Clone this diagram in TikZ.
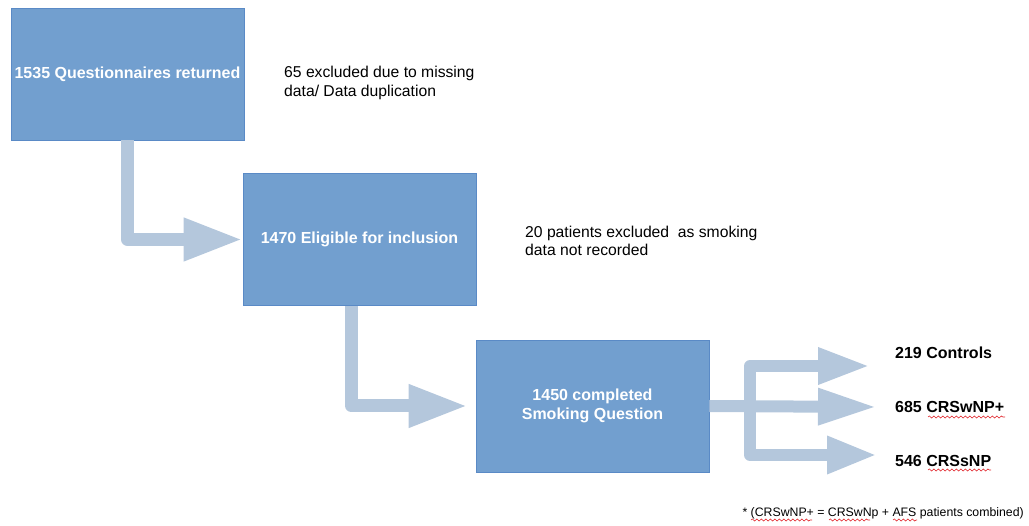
\documentclass[tikz,border=0pt]{standalone}
\usepackage{fontspec}
\setmainfont{Liberation Sans}
\usetikzlibrary{arrows.meta,decorations.pathmorphing}
\definecolor{boxfill}{HTML}{729FCF}
\definecolor{boxline}{HTML}{5A8AC6}
\definecolor{flow}{HTML}{B4C7DC}
\definecolor{spell}{HTML}{E0282E}
\begin{document}
\begin{tikzpicture}[x=1pt,y=-1pt,
  stage/.style={draw=boxline, line width=0.8pt, fill=boxfill,
    minimum width=233pt, minimum height=132pt, inner sep=0pt,
    text=white, align=center,
    font=\bfseries\fontsize{16}{19.5}\selectfont},
  note/.style={anchor=west, align=left, inner sep=0pt,
    font=\fontsize{15.7}{18.5}\selectfont},
  outcome/.style={anchor=west, inner sep=0pt,
    font=\bfseries\fontsize{16}{18.5}\selectfont},
  flowarrow/.style={draw=flow, line width=13pt, line join=round,
    -{Triangle[length=59pt,width=40pt]}},
  branch/.style={draw=flow, line width=12pt, line join=round},
  squiggle/.style={draw=spell, line width=0.6pt,
    decorate, decoration={snake, amplitude=1pt, segment length=4.5pt}}]
\useasboundingbox (0,0) rectangle (1029,526);

% stages of the cohort
\node[stage] (q) at (127.5,74) {1535 Questionnaires returned};
\node[stage] (e) at (359.5,239.5) {1470 Eligible for inclusion};
\node[stage] (s) at (592.5,406) {1450 completed\\ Smoking Question};

% exclusion notes
\node[note] (x1) at (284,83) {65 excluded due to missing\\data/ Data duplication};
\node[note] (x2) at (525,241) {20 patients excluded\ \ as smoking\\data not recorded};

% outcome groups
\node[outcome] (g1) at (895,353) {219 Controls};
\node[outcome] (g2) at (895,407) {685 CRSwNP+};
\node[outcome] (g3) at (895,461) {546 CRSsNP};

\node[anchor=east, inner sep=0pt, font=\fontsize{12.3}{14}\selectfont]
  (fn) at (1024,513) {* (CRSwNP+ = CRSwNp + AFS patients combined)};

% flow between stages
\draw[flowarrow] (q.south) |- (e.west);
\draw[flowarrow, shorten >=8pt] ([xshift=-8pt]e.south) |- (s.west);

% split into the three groups
\coordinate (split) at (750,407);
\coordinate (t1) at (870,366);
\coordinate (t2) at (877,407);
\coordinate (t3) at (877,455);
\draw[branch, -{Triangle[length=52pt,width=34pt]}] (split) |- (t1);
\draw[branch, -{Triangle[length=50pt,width=35pt]}] (split) |- (t3);
\draw[branch, -{Triangle[length=59pt,width=34pt]}] (s.east) -- (t2);

% spell-check underlines
\draw[squiggle] (928,417) -- (1005,417);
\draw[squiggle] (928,470) -- (991,470);
\draw[squiggle] (751,520) -- (812,520);
\draw[squiggle] (829,520) -- (870,520);
\draw[squiggle] (893,520) -- (917,520);
\end{tikzpicture}
\end{document}
